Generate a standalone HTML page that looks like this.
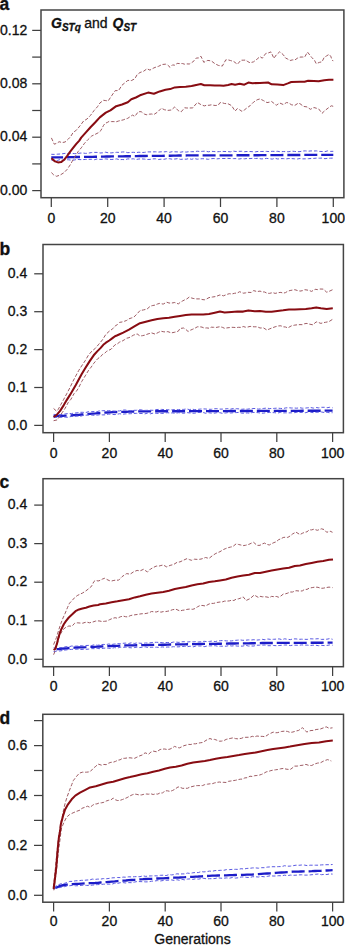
<!DOCTYPE html>
<html><head><meta charset="utf-8"><title>GSTq and QST</title><style>
html,body{margin:0;padding:0;background:#fff;}
body{width:345px;height:947px;overflow:hidden;}
svg{display:block;}
text{font-family:"Liberation Sans",sans-serif;fill:#111;stroke:#111;stroke-width:0.3px;}
.t{font-size:14px;}
.lt{font-size:17.5px;font-weight:bold;}
.lg{font-size:14px;}
.bi{font-weight:bold;font-style:italic;font-size:14px;}
.bis{font-weight:bold;font-style:italic;font-size:10px;}
</style></head>
<body>
<svg width="345" height="947" viewBox="0 0 345 947">
<rect width="100%" height="100%" fill="#fff"/>
<polyline fill="none" stroke="#1c1cc8" stroke-width="2.35" stroke-dasharray="13 3.95" stroke-dashoffset="1.2" points="51.3,157.5 54.2,157.4 57.1,157.4 60.0,157.3 62.7,157.3 65.5,157.2 68.2,157.2 70.9,157.1 73.6,157.1 76.4,157.0 79.1,157.0 81.8,156.9 84.5,156.9 87.3,156.8 90.0,156.8 92.7,156.8 95.5,156.7 98.2,156.7 100.9,156.6 103.6,156.6 106.4,156.5 109.1,156.5 111.8,156.4 114.5,156.4 117.3,156.3 120.0,156.3 122.8,156.3 125.6,156.2 128.4,156.2 131.2,156.2 134.0,156.1 136.8,156.1 139.6,156.0 142.4,156.0 145.2,156.0 148.0,155.9 150.8,155.9 153.6,155.9 156.4,155.8 159.2,155.8 162.0,155.8 164.8,155.7 167.6,155.7 170.4,155.7 173.2,155.6 176.0,155.6 178.8,155.5 181.6,155.5 184.4,155.5 187.2,155.4 190.0,155.4 192.9,155.4 195.7,155.4 198.6,155.4 201.4,155.4 204.3,155.4 207.1,155.3 210.0,155.3 212.9,155.3 215.7,155.3 218.6,155.3 221.4,155.3 224.3,155.3 227.1,155.3 230.0,155.3 232.9,155.3 235.7,155.2 238.6,155.2 241.4,155.2 244.3,155.2 247.1,155.2 250.0,155.2 252.8,155.2 255.6,155.2 258.3,155.2 261.1,155.1 263.9,155.1 266.7,155.1 269.4,155.1 272.2,155.1 275.0,155.1 277.8,155.1 280.5,155.1 283.3,155.0 286.1,155.0 288.9,155.0 291.6,155.0 294.4,155.0 297.2,155.0 300.0,155.0 302.8,154.9 305.5,154.9 308.3,154.9 311.1,154.9 313.9,154.9 316.6,154.9 319.4,154.9 322.2,154.9 325.0,154.8 327.7,154.8 330.5,154.8 333.3,154.8"/>
<polyline fill="none" stroke="#5a5ae2" stroke-width="1" stroke-dasharray="3.4 2" points="51.3,160.0 54.2,160.5 57.1,160.5 60.0,159.6 62.9,160.3 65.7,159.7 68.6,159.8 71.4,160.2 74.3,160.0 77.1,159.4 80.0,159.6 82.9,159.6 85.7,159.4 88.6,159.3 91.4,159.3 94.3,159.7 97.1,159.0 100.0,159.4 102.8,159.3 105.6,158.9 108.3,159.2 111.1,159.5 113.9,159.3 116.7,158.9 119.4,159.7 122.2,159.5 125.0,159.7 127.8,158.9 130.6,159.0 133.3,158.8 136.1,159.5 138.9,159.0 141.7,158.9 144.4,159.1 147.2,159.5 150.0,159.4 152.8,158.9 155.6,158.8 158.3,159.5 161.1,159.2 163.9,159.3 166.7,158.7 169.4,158.7 172.2,159.2 175.0,159.0 177.8,158.6 180.6,159.4 183.3,159.1 186.1,159.2 188.9,158.6 191.7,159.3 194.4,158.5 197.2,159.2 200.0,158.9 202.8,158.7 205.6,158.9 208.3,159.3 211.1,158.7 213.9,158.5 216.7,158.9 219.4,158.6 222.2,158.5 225.0,158.5 227.8,158.4 230.5,158.5 233.3,158.6 236.1,158.6 238.9,159.0 241.7,158.6 244.4,158.8 247.2,158.5 250.0,158.6 252.8,158.3 255.5,158.5 258.3,158.3 261.1,158.9 263.9,158.8 266.6,158.4 269.4,158.7 272.2,159.1 275.0,158.3 277.8,159.0 280.5,158.6 283.3,158.6 286.1,158.9 288.9,158.5 291.6,158.6 294.4,158.8 297.2,159.0 300.0,158.5 302.8,158.9 305.5,158.8 308.3,158.7 311.1,158.5 313.9,158.4 316.6,158.1 319.4,158.2 322.2,158.1 325.0,158.7 327.7,158.3 330.5,158.2 333.3,158.1"/>
<polyline fill="none" stroke="#5a5ae2" stroke-width="1" stroke-dasharray="3.4 2" points="51.3,154.3 54.2,154.4 57.1,154.2 60.0,154.0 62.9,153.7 65.7,153.3 68.6,153.8 71.4,153.3 74.3,153.6 77.1,153.7 80.0,153.1 82.9,153.0 85.7,153.4 88.6,153.1 91.4,152.6 94.3,152.4 97.1,152.4 100.0,153.0 102.8,152.8 105.6,152.2 108.3,152.8 111.1,152.9 113.9,152.6 116.7,152.3 119.4,152.4 122.2,152.0 125.0,151.9 127.8,152.7 130.6,152.4 133.3,152.3 136.1,152.6 138.9,152.2 141.7,152.5 144.4,152.4 147.2,151.9 150.0,151.9 152.8,151.9 155.6,151.8 158.3,152.1 161.1,151.8 163.9,151.9 166.7,151.6 169.4,152.3 172.2,151.7 175.0,151.8 177.8,151.9 180.6,152.2 183.3,151.7 186.1,152.1 188.9,151.7 191.7,151.7 194.4,151.7 197.2,151.2 200.0,151.5 202.8,151.3 205.6,151.1 208.3,151.8 211.1,151.3 213.9,151.5 216.7,151.8 219.4,151.6 222.2,151.4 225.0,151.5 227.8,151.6 230.5,151.8 233.3,151.1 236.1,151.5 238.9,151.3 241.7,151.3 244.4,151.7 247.2,151.5 250.0,151.5 252.8,151.7 255.5,151.8 258.3,151.4 261.1,151.5 263.9,151.4 266.6,151.4 269.4,151.6 272.2,151.3 275.0,151.4 277.8,151.3 280.5,151.8 283.3,151.5 286.1,151.7 288.9,151.7 291.6,151.1 294.4,151.4 297.2,151.7 300.0,151.6 302.8,151.0 305.5,150.9 308.3,151.2 311.1,150.9 313.9,151.0 316.6,150.9 319.4,151.4 322.2,151.5 325.0,151.6 327.7,150.9 330.5,151.4 333.3,151.3"/>
<polyline fill="none" stroke="#9e5c64" stroke-width="1" stroke-dasharray="3.6 1.8" points="51.4,172.6 53.5,174.7 56.5,176.3 60.1,175.1 64.1,172.6 67.2,169.3 70.2,164.9 72.2,161.3 75.3,156.2 78.3,151.3 81.3,147.8 84.6,143.2 88.2,139.4 91.7,136.0 95.1,134.4 98.6,132.6 100.9,130.5 103.3,125.8 105.0,123.4 107.2,122.5 109.3,121.3 111.6,121.6 113.9,121.6 116.2,121.8 118.6,121.0 120.9,120.4 123.2,119.9 125.5,119.0 127.8,118.3 130.2,116.6 132.5,115.1 134.8,116.4 138.3,111.7 141.2,111.7 144.6,114.2 146.9,114.8 149.3,114.2 151.6,114.0 153.9,114.5 157.4,112.2 161.4,108.2 164.3,109.7 167.8,110.4 171.3,110.0 174.8,106.9 178.3,110.7 181.2,111.8 184.6,107.8 186.9,108.0 189.3,108.0 192.8,107.9 195.1,105.0 197.4,102.5 200.9,104.6 204.3,105.9 206.7,105.2 209.0,105.3 211.3,104.8 213.6,105.3 215.9,105.5 218.3,105.1 220.0,102.6 222.3,102.8 224.6,103.5 228.1,103.8 231.6,105.6 235.1,111.1 237.4,108.5 239.7,109.8 242.0,111.4 244.3,110.0 246.7,108.1 250.1,105.7 253.6,102.1 257.1,99.8 260.0,98.9 263.5,100.6 267.0,102.6 269.3,102.2 271.6,101.5 273.9,103.3 276.2,105.3 279.7,103.0 283.2,104.5 286.7,102.5 289.0,103.1 291.3,104.7 294.8,105.4 298.3,103.1 300.0,103.7 303.5,106.4 307.0,106.9 310.4,109.3 313.9,107.5 316.2,108.2 318.6,108.8 322.0,113.3 325.5,110.1 329.0,107.4 331.3,105.8 333.2,106.3"/>
<polyline fill="none" stroke="#9e5c64" stroke-width="1" stroke-dasharray="3.6 1.8" points="51.4,137.9 54.3,144.2 57.0,143.2 59.1,141.7 62.1,142.6 65.1,142.0 68.2,139.2 70.7,136.5 73.1,132.5 76.6,130.0 80.1,125.7 83.6,121.0 87.0,119.0 90.5,115.4 94.0,110.6 97.5,106.7 100.0,102.9 103.5,100.3 105.8,100.6 108.1,101.0 111.6,95.8 115.1,90.7 118.6,90.5 122.0,85.2 124.3,83.3 127.8,80.4 131.3,80.6 134.8,78.8 137.1,74.7 140.0,72.5 143.5,71.3 147.0,68.8 149.9,70.1 153.9,67.9 156.2,67.0 158.6,66.3 162.0,64.5 165.5,64.2 167.8,65.2 170.1,67.3 172.5,64.9 174.8,65.2 177.1,63.4 180.0,63.6 182.3,63.5 184.6,64.2 186.9,63.9 189.3,64.0 192.8,62.0 196.2,58.1 198.6,57.9 200.9,56.2 203.8,62.3 207.8,60.4 211.3,60.9 214.8,63.6 218.3,65.4 222.3,66.1 225.8,59.8 228.1,59.9 230.4,60.5 233.9,61.6 237.4,64.3 240.9,60.2 243.2,60.2 245.5,60.1 247.8,61.6 250.1,62.8 253.6,61.8 257.1,59.1 260.0,56.6 262.3,58.2 265.8,53.4 268.4,52.9 271.0,51.9 273.9,58.4 276.2,55.0 279.7,51.8 283.2,54.6 285.5,58.0 287.8,59.1 290.1,60.5 292.5,59.9 294.8,60.0 297.4,58.2 300.0,57.1 302.3,57.0 304.6,57.2 307.5,52.1 311.6,57.3 314.5,60.3 316.2,63.6 319.7,62.3 322.0,61.8 324.3,57.2 326.6,55.9 329.0,54.4 330.7,56.1 331.9,59.6 333.2,61.1"/>
<polyline fill="none" stroke="#880c12" stroke-width="2.05" stroke-linejoin="round" points="51.4,158.3 55.0,161.4 58.0,162.4 61.1,162.1 64.1,159.8 67.2,155.8 70.2,151.7 73.3,147.7 76.3,143.9 79.3,140.6 81.2,137.6 85.9,132.4 90.5,127.2 95.1,122.5 99.8,117.4 105.8,112.6 110.4,110.3 116.2,106.2 122.0,104.5 127.8,102.2 131.3,99.3 135.9,97.5 140.0,95.3 148.1,92.6 153.9,93.8 159.7,91.4 165.5,89.7 170.1,89.1 174.8,87.4 180.0,87.0 185.8,86.7 191.6,86.1 196.2,84.9 200.9,84.0 204.3,85.2 210.1,85.2 214.8,85.5 220.0,85.4 223.5,85.8 228.1,84.9 231.6,84.0 235.1,84.7 239.7,83.8 244.3,84.7 248.4,82.6 252.5,83.2 260.0,82.9 268.1,82.5 271.6,84.3 277.4,84.6 283.2,85.1 287.8,83.4 291.3,82.0 300.0,81.8 304.6,81.7 308.1,80.8 313.9,81.1 318.6,81.3 324.3,80.2 329.0,79.7 333.4,79.7"/>
<rect x="41" y="10" width="302.90" height="187.70" fill="none" stroke="#444" stroke-width="1.5"/>
<line x1="32.2" y1="190.6" x2="41" y2="190.6" stroke="#404040" stroke-width="1.25"/>
<text x="27.2" y="194.8" text-anchor="end" class="t">0.00</text>
<line x1="32.2" y1="163.9" x2="41" y2="163.9" stroke="#404040" stroke-width="1.25"/>
<line x1="32.2" y1="137.2" x2="41" y2="137.2" stroke="#404040" stroke-width="1.25"/>
<text x="27.2" y="141.4" text-anchor="end" class="t">0.04</text>
<line x1="32.2" y1="110.5" x2="41" y2="110.5" stroke="#404040" stroke-width="1.25"/>
<line x1="32.2" y1="83.8" x2="41" y2="83.8" stroke="#404040" stroke-width="1.25"/>
<text x="27.2" y="88.0" text-anchor="end" class="t">0.08</text>
<line x1="32.2" y1="57.1" x2="41" y2="57.1" stroke="#404040" stroke-width="1.25"/>
<line x1="32.2" y1="30.4" x2="41" y2="30.4" stroke="#404040" stroke-width="1.25"/>
<text x="27.2" y="34.6" text-anchor="end" class="t">0.12</text>
<line x1="51.3" y1="197.7" x2="51.3" y2="207.0" stroke="#404040" stroke-width="1.25"/>
<text x="51.3" y="222.8" text-anchor="middle" class="t">0</text>
<line x1="107.7" y1="197.7" x2="107.7" y2="207.0" stroke="#404040" stroke-width="1.25"/>
<text x="107.7" y="222.8" text-anchor="middle" class="t">20</text>
<line x1="164.1" y1="197.7" x2="164.1" y2="207.0" stroke="#404040" stroke-width="1.25"/>
<text x="164.1" y="222.8" text-anchor="middle" class="t">40</text>
<line x1="220.5" y1="197.7" x2="220.5" y2="207.0" stroke="#404040" stroke-width="1.25"/>
<text x="220.5" y="222.8" text-anchor="middle" class="t">60</text>
<line x1="276.9" y1="197.7" x2="276.9" y2="207.0" stroke="#404040" stroke-width="1.25"/>
<text x="276.9" y="222.8" text-anchor="middle" class="t">80</text>
<line x1="333.3" y1="197.7" x2="333.3" y2="207.0" stroke="#404040" stroke-width="1.25"/>
<text x="333.3" y="222.8" text-anchor="middle" class="t">100</text>
<text x="-0.5" y="9.6" class="lt">a</text>
<polyline fill="none" stroke="#1c1cc8" stroke-width="2.35" stroke-dasharray="13 3.95" stroke-dashoffset="0" points="53.6,416.1 56.8,416.0 60.0,415.9 62.8,415.8 65.5,415.7 68.2,415.6 71.0,415.5 73.7,415.2 76.3,415.0 79.0,414.8 81.7,414.5 84.3,414.2 87.0,414.0 89.9,413.8 92.8,413.6 95.6,413.4 98.5,413.1 101.4,412.9 104.2,412.7 107.1,412.5 110.0,412.3 112.7,412.2 115.5,412.1 118.2,412.0 120.9,411.9 123.6,411.8 126.4,411.8 129.1,411.7 131.8,411.6 134.5,411.5 137.3,411.4 140.0,411.3 142.7,411.3 145.5,411.3 148.2,411.3 150.9,411.3 153.6,411.3 156.4,411.2 159.1,411.2 161.8,411.2 164.5,411.2 167.3,411.2 170.0,411.2 172.8,411.2 175.5,411.2 178.3,411.2 181.0,411.2 183.8,411.2 186.6,411.2 189.3,411.2 192.1,411.1 194.8,411.1 197.6,411.1 200.3,411.1 203.1,411.1 205.9,411.1 208.6,411.1 211.4,411.1 214.1,411.1 216.9,411.1 219.7,411.1 222.4,411.1 225.2,411.1 227.9,411.1 230.7,411.0 233.4,411.0 236.2,411.0 239.0,411.0 241.7,411.0 244.5,411.0 247.2,411.0 250.0,411.0 252.8,411.0 255.5,411.0 258.3,411.0 261.0,410.9 263.8,410.9 266.5,410.9 269.3,410.9 272.0,410.9 274.8,410.9 277.5,410.9 280.3,410.9 283.0,410.8 285.8,410.8 288.5,410.8 291.3,410.8 294.1,410.8 296.8,410.8 299.6,410.8 302.3,410.7 305.1,410.7 307.8,410.7 310.6,410.7 313.3,410.7 316.1,410.7 318.8,410.7 321.6,410.7 324.3,410.6 327.1,410.6 329.8,410.6 332.6,410.6"/>
<polyline fill="none" stroke="#5a5ae2" stroke-width="1" stroke-dasharray="3.4 2" points="53.6,417.6 56.8,417.3 60.0,417.3 62.9,417.2 65.7,417.2 68.6,417.3 71.4,416.3 74.3,416.3 77.1,416.0 80.0,416.4 82.9,415.5 85.7,415.2 88.6,415.0 91.4,415.0 94.3,415.3 97.1,415.1 100.0,414.7 102.8,414.9 105.6,414.8 108.4,414.2 111.2,414.0 114.0,414.6 116.8,414.4 119.6,413.7 122.4,414.2 125.2,413.9 128.0,413.8 130.8,413.7 133.6,413.5 136.4,413.3 139.2,413.5 142.0,413.5 144.8,413.9 147.6,413.1 150.4,413.8 153.2,413.1 156.0,413.2 158.8,413.5 161.6,413.5 164.4,413.1 167.2,412.7 170.0,413.0 172.8,412.9 175.5,413.4 178.3,412.7 181.0,412.9 183.8,413.3 186.6,412.5 189.3,412.9 192.1,413.2 194.8,413.2 197.6,412.5 200.3,412.5 203.1,412.5 205.9,413.3 208.6,412.7 211.4,413.1 214.1,413.2 216.9,412.7 219.7,412.7 222.4,413.3 225.2,413.0 227.9,412.6 230.7,413.0 233.4,412.7 236.2,412.6 239.0,412.4 241.7,413.1 244.5,413.2 247.2,412.9 250.0,413.2 252.8,412.4 255.5,412.5 258.3,412.7 261.0,413.2 263.8,413.1 266.5,412.6 269.3,412.5 272.0,412.6 274.8,412.7 277.5,413.1 280.3,412.4 283.0,412.9 285.8,412.8 288.5,412.9 291.3,412.8 294.1,412.7 296.8,412.4 299.6,412.4 302.3,412.4 305.1,412.8 307.8,412.1 310.6,412.2 313.3,412.7 316.1,412.3 318.8,412.1 321.6,412.0 324.3,412.5 327.1,412.3 329.8,412.8 332.6,412.7"/>
<polyline fill="none" stroke="#5a5ae2" stroke-width="1" stroke-dasharray="3.4 2" points="53.6,414.4 56.8,414.6 60.0,414.7 62.9,414.4 65.7,413.8 68.6,413.6 71.4,413.5 74.3,413.1 77.1,412.8 80.0,412.3 82.9,412.3 85.7,412.6 88.6,411.6 91.4,411.7 94.3,411.6 97.1,411.6 100.0,410.7 102.8,410.7 105.6,410.7 108.4,410.7 111.2,410.7 114.0,411.1 116.8,411.0 119.6,410.9 122.4,410.1 125.2,410.0 128.0,410.6 130.8,410.7 133.6,410.3 136.4,410.3 139.2,409.7 142.0,410.0 144.8,410.4 147.6,410.3 150.4,410.2 153.2,410.3 156.0,409.6 158.8,409.4 161.6,409.4 164.4,409.6 167.2,409.7 170.0,409.9 172.8,409.7 175.5,409.6 178.3,409.7 181.0,409.4 183.8,409.4 186.6,408.9 189.3,409.6 192.1,409.1 194.8,409.7 197.6,409.4 200.3,409.1 203.1,408.9 205.9,409.0 208.6,409.3 211.4,409.3 214.1,408.8 216.9,408.7 219.7,409.1 222.4,409.1 225.2,408.9 227.9,408.7 230.7,409.1 233.4,408.5 236.2,408.7 239.0,408.9 241.7,409.3 244.5,409.0 247.2,409.2 250.0,408.8 252.8,408.5 255.5,408.5 258.3,409.1 261.0,408.8 263.8,408.4 266.5,408.1 269.3,408.5 272.0,408.6 274.8,408.3 277.5,408.1 280.3,408.4 283.0,408.6 285.8,407.9 288.5,407.7 291.3,408.0 294.1,408.0 296.8,408.2 299.6,407.7 302.3,408.2 305.1,408.1 307.8,407.8 310.6,407.5 313.3,408.1 316.1,407.5 318.8,407.9 321.6,407.3 324.3,407.3 327.1,407.7 329.8,407.3 332.6,407.8"/>
<polyline fill="none" stroke="#9e5c64" stroke-width="1" stroke-dasharray="3.6 1.8" points="53.6,420.7 57.2,419.9 59.8,416.0 62.3,412.5 65.2,408.2 68.1,402.7 71.0,399.2 74.0,393.7 76.2,391.5 78.3,388.4 81.7,381.5 85.2,375.9 88.7,370.1 91.2,367.1 93.7,363.4 95.8,360.9 98.0,358.4 100.2,357.2 102.4,354.5 104.6,353.3 106.7,351.3 108.9,350.2 111.1,349.2 115.0,344.8 117.3,343.9 119.7,342.0 122.0,341.2 124.3,339.8 126.7,338.2 129.0,337.7 131.3,336.4 133.6,335.1 137.1,333.9 140.0,336.0 142.3,335.7 144.6,335.2 148.1,333.9 151.6,332.9 155.1,334.1 158.6,332.3 160.9,331.2 163.2,331.7 165.5,332.0 167.8,331.6 171.3,332.9 174.8,332.2 178.3,331.2 180.0,328.5 183.5,328.0 185.8,329.4 188.1,331.5 190.4,330.2 192.8,329.2 195.1,328.1 197.4,326.8 199.7,326.8 202.0,327.1 204.3,328.1 206.7,327.9 209.0,328.2 211.3,327.2 213.6,327.3 215.9,327.5 220.0,326.7 222.3,327.3 224.6,328.3 226.9,327.9 229.3,327.6 231.6,327.3 233.9,327.4 236.2,327.6 238.6,327.3 240.9,327.4 243.2,326.5 245.5,327.2 247.8,327.0 250.1,326.4 252.4,326.7 254.8,326.8 257.4,326.8 260.0,328.0 263.5,327.9 267.0,330.1 269.3,329.0 271.6,328.1 275.1,326.8 278.6,325.9 280.9,325.8 283.2,326.8 285.5,327.0 287.8,327.9 291.3,325.9 294.8,325.1 297.4,324.8 300.0,324.6 302.3,324.7 304.6,323.7 307.0,323.4 309.3,324.1 312.8,324.8 316.2,321.9 318.5,322.5 320.9,323.4 323.2,322.7 325.5,322.3 329.0,321.6 332.6,319.3"/>
<polyline fill="none" stroke="#9e5c64" stroke-width="1" stroke-dasharray="3.6 1.8" points="53.6,408.5 56.5,411.1 58.0,409.8 60.9,404.4 63.8,399.2 66.7,393.8 70.0,387.5 72.9,381.4 75.8,375.9 78.7,370.5 81.6,366.0 85.2,360.7 88.5,355.0 92.0,351.0 95.4,348.3 98.9,344.1 102.4,339.9 105.9,334.3 109.3,331.2 112.8,328.7 115.0,326.1 115.1,326.0 117.4,324.6 119.7,322.3 122.0,322.0 124.3,321.3 126.7,320.4 129.0,318.8 131.3,318.0 133.6,317.4 137.1,313.8 140.0,310.6 143.5,309.9 147.0,309.1 150.4,306.1 152.8,305.5 155.1,305.1 157.4,304.0 159.7,303.4 163.2,304.1 166.7,302.2 169.0,303.0 171.3,303.1 174.8,302.5 178.3,303.9 180.0,302.6 182.3,301.1 184.6,299.9 186.9,298.9 189.3,297.0 191.6,298.0 193.9,298.6 196.8,298.9 199.7,298.9 202.0,299.5 204.3,299.8 206.7,298.9 209.0,297.6 212.5,297.0 215.9,296.5 220.0,294.9 223.5,295.8 227.0,294.4 229.3,293.7 231.6,294.0 234.5,293.3 237.4,292.9 239.7,291.7 243.2,293.2 245.5,292.9 247.8,292.3 251.3,292.5 253.6,290.6 257.1,291.6 260.0,291.1 262.3,291.9 264.6,292.0 267.0,293.2 269.3,293.4 272.8,292.6 275.1,293.4 278.6,292.6 280.9,292.4 283.2,293.2 285.5,292.6 287.8,291.2 290.1,290.5 292.5,290.1 294.8,289.7 297.4,290.5 300.0,291.1 302.3,290.7 304.6,289.7 307.0,290.0 309.3,290.5 311.6,291.4 315.1,289.3 317.4,289.6 319.7,289.0 323.2,289.1 326.7,292.2 329.0,291.4 332.6,289.7"/>
<polyline fill="none" stroke="#880c12" stroke-width="2.05" stroke-linejoin="round" points="53.6,417.0 56.5,415.2 60.1,410.9 63.8,405.1 66.7,400.1 70.0,394.9 75.8,384.9 81.6,374.3 85.2,368.3 89.7,361.1 93.7,355.3 97.2,351.4 100.7,347.9 103.3,344.8 105.9,342.7 109.3,340.5 112.8,337.9 115.0,336.2 117.4,335.3 123.2,332.6 129.0,329.7 134.8,326.2 140.0,323.2 145.8,321.7 151.6,320.3 157.4,318.9 163.2,318.2 169.0,317.7 174.8,316.8 180.0,315.9 185.8,315.1 191.6,314.4 197.4,314.4 203.2,314.5 209.0,313.9 214.8,312.7 220.0,311.6 224.6,312.4 231.6,312.0 237.4,311.6 243.2,311.6 248.4,310.4 254.8,311.2 260.0,311.1 265.8,311.7 271.6,311.7 277.4,310.9 283.2,310.3 289.0,309.4 294.8,309.4 300.0,309.2 305.8,308.9 311.6,308.2 316.2,307.4 320.9,308.2 326.7,308.9 332.8,308.2"/>
<rect x="43" y="244.5" width="300.40" height="188.20" fill="none" stroke="#444" stroke-width="1.5"/>
<line x1="34.2" y1="425.4" x2="43" y2="425.4" stroke="#404040" stroke-width="1.25"/>
<text x="27.2" y="429.6" text-anchor="end" class="t">0.0</text>
<line x1="34.2" y1="387.5" x2="43" y2="387.5" stroke="#404040" stroke-width="1.25"/>
<text x="27.2" y="391.7" text-anchor="end" class="t">0.1</text>
<line x1="34.2" y1="349.6" x2="43" y2="349.6" stroke="#404040" stroke-width="1.25"/>
<text x="27.2" y="353.8" text-anchor="end" class="t">0.2</text>
<line x1="34.2" y1="311.7" x2="43" y2="311.7" stroke="#404040" stroke-width="1.25"/>
<text x="27.2" y="315.9" text-anchor="end" class="t">0.3</text>
<line x1="34.2" y1="273.8" x2="43" y2="273.8" stroke="#404040" stroke-width="1.25"/>
<text x="27.2" y="278.0" text-anchor="end" class="t">0.4</text>
<line x1="53.6" y1="432.7" x2="53.6" y2="442.0" stroke="#404040" stroke-width="1.25"/>
<text x="53.6" y="457.6" text-anchor="middle" class="t">0</text>
<line x1="109.4" y1="432.7" x2="109.4" y2="442.0" stroke="#404040" stroke-width="1.25"/>
<text x="109.4" y="457.6" text-anchor="middle" class="t">20</text>
<line x1="165.2" y1="432.7" x2="165.2" y2="442.0" stroke="#404040" stroke-width="1.25"/>
<text x="165.2" y="457.6" text-anchor="middle" class="t">40</text>
<line x1="221.0" y1="432.7" x2="221.0" y2="442.0" stroke="#404040" stroke-width="1.25"/>
<text x="221.0" y="457.6" text-anchor="middle" class="t">60</text>
<line x1="276.8" y1="432.7" x2="276.8" y2="442.0" stroke="#404040" stroke-width="1.25"/>
<text x="276.8" y="457.6" text-anchor="middle" class="t">80</text>
<line x1="332.6" y1="432.7" x2="332.6" y2="442.0" stroke="#404040" stroke-width="1.25"/>
<text x="332.6" y="457.6" text-anchor="middle" class="t">100</text>
<text x="-0.5" y="254.6" class="lt">b</text>
<polyline fill="none" stroke="#1c1cc8" stroke-width="2.35" stroke-dasharray="13 3.95" stroke-dashoffset="-3" points="53.6,649.6 57.2,649.2 59.6,649.0 62.1,648.7 64.5,648.5 66.9,648.3 69.3,648.0 71.7,647.8 74.5,647.7 77.3,647.5 80.2,647.4 83.0,647.3 85.9,647.2 88.7,647.0 91.6,646.9 94.4,646.8 97.3,646.7 100.1,646.5 103.0,646.4 105.9,646.3 108.7,646.1 111.6,646.0 114.4,645.9 117.3,645.8 120.1,645.6 123.0,645.5 125.8,645.4 128.6,645.4 131.4,645.3 134.2,645.3 137.0,645.2 139.8,645.2 142.6,645.1 145.4,645.1 148.2,645.0 151.0,644.9 153.8,644.9 156.6,644.8 159.4,644.8 162.2,644.7 165.0,644.7 167.8,644.6 170.6,644.5 173.4,644.5 176.2,644.4 179.0,644.4 181.8,644.3 184.6,644.3 187.4,644.2 190.2,644.2 193.0,644.1 195.8,644.1 198.5,644.0 201.3,644.0 204.1,643.9 206.8,643.9 209.6,643.8 212.4,643.8 215.2,643.8 217.9,643.7 220.7,643.7 223.5,643.6 226.2,643.6 229.0,643.5 231.8,643.5 234.5,643.5 237.3,643.4 240.1,643.4 242.8,643.3 245.6,643.3 248.4,643.3 251.2,643.2 253.9,643.2 256.7,643.1 259.5,643.1 262.2,643.0 265.0,643.0 267.8,643.0 270.6,643.0 273.4,643.0 276.3,642.9 279.1,642.9 281.9,642.9 284.7,642.9 287.5,642.9 290.4,642.9 293.2,642.8 296.0,642.8 298.8,642.8 301.6,642.8 304.4,642.8 307.2,642.8 310.1,642.7 312.9,642.7 315.7,642.7 318.5,642.7 321.3,642.7 324.2,642.6 327.0,642.6 329.8,642.6 332.6,642.6"/>
<polyline fill="none" stroke="#5a5ae2" stroke-width="1" stroke-dasharray="3.4 2" points="53.6,651.6 56.6,651.1 59.6,651.0 62.7,650.5 65.7,650.0 68.7,649.5 71.7,649.4 74.5,649.1 77.4,649.2 80.2,649.5 83.1,649.3 86.0,649.3 88.8,649.1 91.7,648.6 94.5,648.7 97.3,648.5 100.2,648.7 103.1,648.3 105.9,648.0 108.8,648.2 111.6,648.4 114.5,647.6 117.3,648.1 120.2,647.2 123.0,647.3 125.8,647.2 128.6,647.6 131.4,647.8 134.2,647.6 137.0,647.1 139.8,647.6 142.6,647.1 145.4,646.9 148.2,647.5 151.0,647.2 153.8,647.2 156.6,647.2 159.4,647.4 162.2,646.9 165.0,647.2 167.8,647.0 170.6,647.1 173.4,646.7 176.2,646.9 179.0,646.8 181.8,646.5 184.6,646.4 187.4,646.7 190.2,646.2 193.0,646.9 195.8,646.1 198.5,646.0 201.3,646.0 204.1,646.7 206.8,646.1 209.6,645.9 212.4,645.8 215.2,645.7 217.9,646.3 220.7,646.2 223.5,646.2 226.2,646.2 229.0,645.6 231.8,646.0 234.5,645.7 237.3,646.1 240.1,646.1 242.8,646.1 245.6,645.3 248.4,646.0 251.2,646.0 253.9,646.0 256.7,645.2 259.5,645.2 262.2,645.1 265.0,645.0 267.8,645.7 270.6,645.7 273.4,645.5 276.3,645.7 279.1,645.5 281.9,645.2 284.7,645.0 287.5,645.0 290.4,645.6 293.2,645.1 296.0,645.2 298.8,645.3 301.6,644.9 304.4,645.1 307.2,645.1 310.1,645.5 312.9,645.2 315.7,645.2 318.5,645.7 321.3,645.3 324.2,645.6 327.0,645.4 329.8,644.9 332.6,645.2"/>
<polyline fill="none" stroke="#5a5ae2" stroke-width="1" stroke-dasharray="3.4 2" points="53.6,647.9 56.6,648.3 59.6,647.7 62.7,647.6 65.7,646.6 68.7,646.9 71.7,646.0 74.5,646.2 77.4,646.1 80.2,645.7 83.1,646.0 86.0,645.5 88.8,645.4 91.7,645.5 94.5,644.7 97.3,645.3 100.2,644.8 103.1,644.4 105.9,644.6 108.8,644.0 111.6,644.5 114.5,644.0 117.3,643.6 120.2,643.8 123.0,643.3 125.8,643.1 128.6,643.5 131.4,642.8 134.2,643.5 137.0,642.9 139.8,643.2 142.6,643.4 145.4,643.0 148.2,643.0 151.0,642.7 153.8,642.3 156.6,642.3 159.4,642.4 162.2,642.7 165.0,642.5 167.8,642.5 170.6,642.8 173.4,642.1 176.2,642.1 179.0,642.4 181.8,641.8 184.6,641.7 187.4,642.0 190.2,641.7 193.0,641.9 195.8,641.7 198.5,641.9 201.3,641.8 204.1,641.3 206.8,641.6 209.6,641.4 212.4,641.0 215.2,641.6 217.9,640.9 220.7,640.7 223.5,640.5 226.2,640.9 229.0,641.0 231.8,640.9 234.5,640.4 237.3,640.2 240.1,639.9 242.8,640.3 245.6,640.2 248.4,639.9 251.2,640.0 253.9,639.7 256.7,640.1 259.5,639.8 262.2,639.3 265.0,639.8 267.8,639.0 270.6,639.4 273.4,639.3 276.3,639.1 279.1,638.9 281.9,639.6 284.7,638.8 287.5,639.3 290.4,639.6 293.2,638.9 296.0,638.9 298.8,639.3 301.6,639.2 304.4,639.3 307.2,639.4 310.1,638.8 312.9,638.9 315.7,638.9 318.5,638.7 321.3,639.4 324.2,639.3 327.0,639.2 329.8,638.6 332.6,639.3"/>
<polyline fill="none" stroke="#9e5c64" stroke-width="1" stroke-dasharray="3.6 1.8" points="53.6,654.7 55.8,649.5 57.2,644.2 58.7,638.2 60.9,633.3 63.0,629.6 65.9,627.3 68.8,626.0 72.0,626.2 74.6,623.3 77.2,622.8 80.7,623.1 82.8,623.2 85.0,622.4 87.2,622.2 89.4,622.8 92.9,622.0 95.5,621.1 99.0,620.9 102.0,621.5 104.6,621.3 106.9,621.0 109.3,619.8 112.8,618.3 115.1,617.7 117.4,618.3 120.3,616.8 123.2,616.1 125.5,616.7 127.8,616.9 130.2,615.7 132.5,615.1 134.8,614.8 137.1,614.5 140.0,614.0 142.3,613.7 144.6,613.7 146.9,613.3 149.3,612.6 151.6,611.5 153.9,611.8 156.2,612.0 158.6,611.2 160.9,612.2 163.2,611.6 165.5,611.6 167.8,611.2 170.2,610.6 172.5,609.7 175.9,609.2 180.0,611.0 182.3,610.3 184.6,610.0 186.9,609.4 189.3,609.1 192.8,609.3 195.1,608.5 197.4,606.9 199.7,605.7 202.0,605.4 205.5,606.0 209.0,604.0 211.3,603.4 213.6,603.4 216.8,602.5 220.0,602.0 222.3,601.9 224.6,601.1 226.9,601.1 229.3,600.9 231.6,600.2 233.9,600.5 236.2,599.1 238.6,598.8 240.9,598.0 243.2,596.9 246.1,600.5 250.1,598.6 254.2,595.0 258.3,597.4 260.0,596.3 262.3,596.8 264.6,596.7 267.0,597.0 269.3,597.6 271.6,596.4 273.9,596.7 276.2,596.4 278.6,597.2 280.9,596.0 283.2,594.1 285.5,593.8 287.8,593.1 290.1,592.0 292.5,592.0 295.9,590.7 300.0,591.1 302.3,590.9 304.6,589.4 307.0,589.4 309.3,588.1 312.2,587.6 315.1,587.1 318.0,587.3 320.9,588.3 323.2,588.2 325.5,587.7 329.0,587.1 332.5,587.6"/>
<polyline fill="none" stroke="#9e5c64" stroke-width="1" stroke-dasharray="3.6 1.8" points="53.6,644.6 56.5,637.4 58.7,630.0 60.9,623.4 63.0,618.0 65.2,613.2 67.4,607.8 69.5,603.2 72.0,600.6 74.6,597.7 77.2,595.6 79.8,594.3 82.4,593.1 85.9,590.9 89.4,588.1 92.0,585.7 93.7,581.8 95.5,580.3 98.1,581.0 100.0,580.4 102.3,579.1 104.6,578.3 106.9,579.5 109.3,580.6 111.6,581.0 113.9,580.4 116.2,580.1 118.6,580.2 122.0,576.7 124.3,575.1 126.7,573.6 130.1,574.2 133.6,571.8 137.1,570.4 140.0,570.9 143.5,569.3 147.5,572.0 150.4,569.1 153.9,567.2 156.2,566.1 158.6,566.2 160.9,565.5 163.2,565.0 166.7,566.9 170.1,565.4 173.6,564.5 177.1,562.3 180.0,561.9 183.5,560.2 187.0,558.6 189.3,559.6 191.6,560.3 194.5,559.2 197.4,559.4 199.7,559.3 202.0,558.8 205.5,557.5 209.0,558.4 212.5,555.6 215.9,553.4 220.0,551.7 223.5,549.5 225.8,548.5 228.1,547.7 230.4,547.1 232.8,546.6 236.2,543.8 238.6,544.5 240.9,545.0 243.2,545.6 245.5,545.3 249.0,544.3 251.3,543.2 253.6,542.3 257.1,545.4 260.0,545.3 262.3,543.9 264.6,543.1 267.0,544.4 269.3,545.0 271.6,543.7 273.9,542.6 276.2,541.8 278.6,539.7 280.9,538.8 283.2,537.5 285.5,537.2 287.8,537.4 290.1,536.0 292.5,534.0 295.9,532.1 300.0,534.6 302.3,533.3 304.6,532.3 307.0,531.8 309.3,529.8 311.6,529.9 313.9,529.2 317.4,530.3 321.4,528.8 324.3,529.6 326.7,532.3 330.1,531.2 332.5,532.3"/>
<polyline fill="none" stroke="#880c12" stroke-width="2.05" stroke-linejoin="round" points="53.6,650.0 55.1,649.0 56.9,643.9 58.3,638.1 59.8,633.0 61.6,628.7 63.8,624.3 65.9,621.1 68.8,617.5 72.0,614.6 75.5,611.2 79.0,609.4 82.4,608.4 85.9,607.7 89.4,606.6 93.7,605.5 98.1,604.9 100.0,604.3 105.8,603.4 111.6,602.2 117.4,601.3 123.2,600.2 129.0,599.3 134.8,597.4 140.0,596.3 145.8,594.8 151.6,593.6 157.4,592.8 163.2,591.9 169.0,590.7 174.8,589.0 180.0,588.1 185.8,587.1 191.6,585.4 197.4,584.2 203.2,583.6 209.0,582.1 214.8,581.3 220.0,580.4 225.8,579.4 231.6,577.7 237.4,576.5 243.2,575.6 249.0,574.8 254.8,573.0 260.0,572.9 265.8,571.7 271.6,570.6 277.4,569.4 283.2,568.6 289.0,567.7 294.8,565.9 300.0,565.5 305.8,564.1 311.6,562.9 317.4,561.7 323.2,560.9 329.0,559.8 333.0,559.4"/>
<rect x="43" y="478.7" width="300.40" height="188.00" fill="none" stroke="#444" stroke-width="1.5"/>
<line x1="34.2" y1="659.3" x2="43" y2="659.3" stroke="#404040" stroke-width="1.25"/>
<text x="27.2" y="663.5" text-anchor="end" class="t">0.0</text>
<line x1="34.2" y1="620.8" x2="43" y2="620.8" stroke="#404040" stroke-width="1.25"/>
<text x="27.2" y="625.0" text-anchor="end" class="t">0.1</text>
<line x1="34.2" y1="582.2" x2="43" y2="582.2" stroke="#404040" stroke-width="1.25"/>
<text x="27.2" y="586.4" text-anchor="end" class="t">0.2</text>
<line x1="34.2" y1="543.6" x2="43" y2="543.6" stroke="#404040" stroke-width="1.25"/>
<text x="27.2" y="547.9" text-anchor="end" class="t">0.3</text>
<line x1="34.2" y1="505.1" x2="43" y2="505.1" stroke="#404040" stroke-width="1.25"/>
<text x="27.2" y="509.3" text-anchor="end" class="t">0.4</text>
<line x1="53.6" y1="666.7" x2="53.6" y2="676.0" stroke="#404040" stroke-width="1.25"/>
<text x="53.6" y="690.7" text-anchor="middle" class="t">0</text>
<line x1="109.4" y1="666.7" x2="109.4" y2="676.0" stroke="#404040" stroke-width="1.25"/>
<text x="109.4" y="690.7" text-anchor="middle" class="t">20</text>
<line x1="165.2" y1="666.7" x2="165.2" y2="676.0" stroke="#404040" stroke-width="1.25"/>
<text x="165.2" y="690.7" text-anchor="middle" class="t">40</text>
<line x1="221.0" y1="666.7" x2="221.0" y2="676.0" stroke="#404040" stroke-width="1.25"/>
<text x="221.0" y="690.7" text-anchor="middle" class="t">60</text>
<line x1="276.8" y1="666.7" x2="276.8" y2="676.0" stroke="#404040" stroke-width="1.25"/>
<text x="276.8" y="690.7" text-anchor="middle" class="t">80</text>
<line x1="332.6" y1="666.7" x2="332.6" y2="676.0" stroke="#404040" stroke-width="1.25"/>
<text x="332.6" y="690.7" text-anchor="middle" class="t">100</text>
<text x="-0.5" y="487.8" class="lt">c</text>
<polyline fill="none" stroke="#1c1cc8" stroke-width="2.35" stroke-dasharray="13 3.95" stroke-dashoffset="-1.8" points="53.6,888.2 55.0,888.2 57.3,887.2 59.6,886.1 62.0,885.5 64.3,885.0 67.2,884.6 70.1,884.2 72.8,884.1 75.5,883.9 78.2,883.8 81.7,883.6 85.1,883.4 87.6,883.3 90.0,883.2 92.5,883.1 95.0,883.0 97.8,882.8 100.6,882.5 103.4,882.3 106.2,882.1 109.1,881.8 111.9,881.6 114.7,881.4 117.5,881.1 120.3,880.9 123.1,880.7 125.9,880.5 128.8,880.2 131.6,880.0 134.4,879.8 137.2,879.5 140.0,879.3 142.9,879.2 145.8,879.0 148.7,878.9 151.6,878.8 154.5,878.6 157.4,878.5 160.3,878.4 163.2,878.3 166.1,878.1 169.0,878.0 171.6,877.9 174.2,877.7 176.9,877.6 179.5,877.5 182.1,877.3 184.8,877.2 187.4,877.0 190.0,876.9 192.8,876.8 195.6,876.6 198.3,876.5 201.1,876.3 203.9,876.2 206.7,876.0 209.4,875.9 212.2,875.7 215.0,875.6 217.9,875.5 220.8,875.4 223.7,875.3 226.6,875.3 229.5,875.2 232.4,875.1 235.3,875.0 238.2,874.9 241.1,874.8 244.0,874.8 246.9,874.7 249.8,874.6 252.7,874.5 255.6,874.3 258.5,874.1 261.3,873.9 264.2,873.7 267.1,873.5 270.0,873.3 272.9,873.1 275.7,872.9 278.6,872.7 281.5,872.5 284.4,872.3 287.2,872.1 290.1,871.9 293.0,871.7 295.7,871.6 298.3,871.6 301.0,871.5 303.7,871.4 306.3,871.4 309.0,871.3 311.9,871.2 314.9,871.0 317.9,870.9 320.8,870.8 323.8,870.6 326.7,870.5 329.7,870.3 332.6,870.2"/>
<polyline fill="none" stroke="#5a5ae2" stroke-width="1" stroke-dasharray="3.4 2" points="53.6,889.2 55.8,888.1 58.0,888.0 61.1,887.1 64.3,886.7 67.1,885.9 69.9,885.7 72.6,885.4 75.4,885.8 78.2,885.7 81.0,885.4 83.8,885.1 86.6,885.4 89.4,885.4 92.2,885.1 95.0,884.8 97.8,884.6 100.6,884.5 103.4,884.2 106.2,884.1 109.1,884.1 111.9,884.2 114.7,883.2 117.5,883.4 120.3,882.7 123.1,882.6 125.9,883.0 128.8,882.6 131.6,882.7 134.4,882.1 137.2,881.5 140.0,881.6 142.9,881.7 145.8,881.9 148.7,881.8 151.6,881.2 154.5,881.0 157.4,880.6 160.3,881.0 163.2,880.5 166.1,880.3 169.0,880.1 171.6,879.9 174.2,880.4 176.9,879.7 179.5,880.3 182.1,879.4 184.8,879.9 187.4,879.1 190.0,878.9 192.8,879.4 195.6,878.8 198.3,879.2 201.1,878.6 203.9,878.3 206.7,878.9 209.4,878.7 212.2,878.7 215.0,878.5 217.9,877.8 220.8,878.2 223.7,878.2 226.6,877.9 229.5,878.2 232.4,877.5 235.3,878.1 238.2,877.8 241.1,877.0 244.0,876.9 246.9,877.4 249.8,877.5 252.7,876.7 255.6,876.8 258.5,877.0 261.4,876.4 264.3,876.8 267.2,876.4 270.1,875.8 273.0,876.0 275.9,876.0 278.8,875.7 281.7,875.8 284.6,875.2 287.5,875.6 290.4,875.1 293.2,875.3 296.0,875.2 298.8,874.9 301.7,874.8 304.5,875.1 307.3,875.1 310.1,874.9 312.9,874.6 315.7,874.3 318.5,874.0 321.3,874.7 324.2,874.4 327.0,874.5 329.8,873.9 332.6,874.1"/>
<polyline fill="none" stroke="#5a5ae2" stroke-width="1" stroke-dasharray="3.4 2" points="53.6,886.8 55.8,886.2 58.0,884.9 61.1,883.7 64.3,883.4 67.0,882.6 69.7,881.4 72.4,881.4 75.5,880.8 78.6,880.7 81.7,880.3 84.4,880.3 87.0,880.0 89.7,879.9 92.3,879.1 95.0,879.4 97.8,879.1 100.6,879.1 103.4,878.6 106.2,878.8 109.1,878.4 111.9,877.9 114.7,877.7 117.5,877.5 120.3,877.6 123.1,877.1 125.9,877.2 128.8,876.8 131.6,876.9 134.4,876.7 137.2,876.6 140.0,876.7 142.9,875.8 145.8,876.4 148.7,876.0 151.6,875.9 154.5,875.8 157.4,875.9 160.3,875.3 163.2,875.2 166.1,875.6 169.0,874.6 171.6,874.9 174.2,874.6 176.9,873.8 179.5,874.1 182.1,873.9 184.8,873.9 187.4,873.1 190.0,873.4 192.8,872.8 195.6,872.5 198.3,872.6 201.1,871.6 203.9,871.9 206.7,871.6 209.4,871.1 212.2,871.3 215.0,870.6 217.9,870.5 220.8,870.3 223.7,870.3 226.6,869.6 229.5,869.6 232.4,869.4 235.3,869.3 238.2,869.4 241.1,868.7 244.0,869.0 246.9,868.4 249.8,868.3 252.7,867.9 255.6,867.9 258.5,868.2 261.4,867.7 264.3,867.7 267.2,867.1 270.1,866.9 273.0,866.7 275.9,866.8 278.8,866.6 281.7,866.6 284.6,865.7 287.5,866.2 290.4,866.1 293.2,865.7 296.0,865.2 298.8,865.3 301.7,865.0 304.5,865.1 307.3,865.6 310.1,865.2 312.9,865.2 315.7,865.2 318.5,865.2 321.3,864.9 324.2,864.8 327.0,864.7 329.8,864.7 332.6,864.5"/>
<polyline fill="none" stroke="#9e5c64" stroke-width="1" stroke-dasharray="3.6 1.8" points="53.8,890.3 55.4,878.2 57.0,865.4 58.6,850.2 60.2,838.1 61.3,829.0 62.5,825.8 63.7,822.8 66.6,817.2 69.5,814.6 73.1,812.8 76.7,811.3 80.0,810.1 82.0,808.3 85.4,807.1 87.5,806.2 90.0,807.4 92.3,805.5 94.6,804.0 96.9,803.9 99.3,802.9 101.6,802.8 103.9,802.3 106.2,801.0 108.6,800.3 110.9,799.9 113.2,798.1 115.5,799.8 117.8,800.6 120.2,800.3 122.5,799.5 124.8,798.6 127.1,797.6 130.0,795.9 132.3,794.8 134.6,794.0 136.9,794.4 139.3,795.0 141.6,794.9 143.9,794.3 146.2,794.0 148.6,794.2 150.9,793.8 153.2,794.5 155.5,793.9 157.8,794.1 160.2,792.8 162.5,793.1 164.8,790.8 167.4,790.8 170.0,791.4 172.3,790.6 174.6,789.4 178.1,786.9 180.4,787.5 182.8,788.4 185.1,788.2 187.4,788.3 189.7,787.2 192.0,786.6 195.5,785.7 197.8,785.6 200.1,785.6 202.4,785.6 204.8,784.6 207.4,784.2 210.0,783.8 212.3,783.7 214.6,782.9 216.9,782.4 219.3,782.0 221.6,782.4 223.9,782.3 226.2,782.5 228.6,781.3 230.9,781.0 233.2,780.6 235.5,780.3 237.8,779.7 240.2,779.2 242.5,779.1 244.8,777.9 247.1,777.7 250.0,776.2 252.3,776.5 254.6,775.7 256.9,775.5 259.3,775.1 261.6,774.4 263.9,773.3 266.2,771.9 268.6,771.4 270.9,770.6 273.2,770.1 275.5,769.8 277.8,769.5 280.7,768.8 283.6,768.4 286.0,769.1 288.3,769.4 290.0,769.6 292.1,768.2 294.3,766.1 297.2,766.1 300.1,765.5 303.0,765.2 305.9,764.4 308.8,765.4 311.7,765.5 314.6,764.0 317.5,763.1 320.4,762.8 323.3,761.2 325.5,760.3 327.7,759.6 331.3,761.0"/>
<polyline fill="none" stroke="#9e5c64" stroke-width="1" stroke-dasharray="3.6 1.8" points="53.4,886.9 55.0,872.3 56.6,855.8 58.2,840.2 60.0,828.0 61.2,820.7 62.2,817.3 63.7,809.2 65.1,803.4 67.3,796.3 69.5,790.3 71.7,784.7 73.3,780.6 76.3,776.7 79.3,773.2 82.4,772.2 86.4,772.2 90.0,771.8 93.5,768.1 95.8,766.3 98.1,764.1 101.6,765.2 103.9,764.4 106.2,764.7 108.6,763.2 110.9,762.3 113.2,762.2 115.5,761.4 117.8,760.2 120.1,759.8 122.4,758.4 124.8,758.3 127.4,757.9 130.0,757.8 132.3,758.1 134.6,758.3 136.9,757.2 139.3,756.0 142.2,755.0 145.1,752.8 148.6,754.2 150.9,752.1 153.2,751.1 156.7,751.8 160.1,749.5 162.4,749.1 164.8,749.0 167.4,749.6 170.0,749.1 172.3,747.9 174.6,746.4 176.9,747.3 179.3,747.9 181.6,746.9 183.9,745.7 186.2,745.1 188.6,744.4 190.9,744.5 193.2,743.8 195.5,743.8 197.8,743.3 200.2,742.8 202.5,742.5 204.8,741.2 207.1,739.7 210.0,738.5 212.3,739.5 214.6,739.4 216.9,740.2 219.3,741.2 221.6,741.1 223.9,740.6 226.2,739.4 228.6,738.8 230.9,738.3 233.2,737.8 235.5,738.6 237.8,738.8 241.3,738.4 243.6,737.4 245.9,737.3 250.0,737.2 252.3,736.3 254.6,736.9 256.9,736.0 259.3,736.3 262.8,736.4 265.1,736.7 268.6,734.3 270.9,733.2 273.2,732.1 275.5,732.8 277.8,732.6 281.3,731.5 284.8,731.1 287.4,731.4 290.0,732.4 292.1,732.2 294.3,731.6 296.5,730.9 298.7,730.4 302.3,727.7 304.5,729.5 306.7,732.1 308.9,731.1 311.0,730.5 313.6,730.4 316.1,729.5 318.2,729.3 320.4,729.0 323.3,727.9 326.2,726.8 329.1,728.3 332.5,727.8"/>
<polyline fill="none" stroke="#880c12" stroke-width="2.05" stroke-linejoin="round" points="53.6,889.0 55.0,878.3 56.3,867.0 57.1,856.6 58.0,846.2 58.9,837.5 60.2,830.5 60.8,824.6 63.0,815.9 65.1,809.4 68.0,804.3 71.7,799.3 75.3,795.6 80.0,792.7 85.4,789.9 90.0,787.4 95.8,786.3 101.6,784.6 107.4,782.8 113.2,781.7 119.0,779.9 124.8,778.2 130.0,777.1 135.8,775.7 141.6,774.3 147.4,773.2 153.2,771.7 159.0,770.5 164.8,768.8 170.0,767.6 175.8,766.7 181.6,765.5 187.4,763.8 193.2,762.6 199.0,761.7 204.8,760.9 210.0,760.0 215.8,758.8 221.6,757.8 227.4,757.0 233.2,755.9 239.0,755.1 244.8,754.1 250.0,753.2 255.8,752.4 261.6,751.2 267.4,750.1 273.2,749.1 279.0,748.2 284.8,747.4 290.0,746.6 297.2,745.3 304.5,744.1 311.7,743.1 319.0,742.4 326.2,741.2 332.8,740.6"/>
<rect x="42.8" y="714.3" width="300.70" height="187.90" fill="none" stroke="#444" stroke-width="1.5"/>
<line x1="34.0" y1="895.3" x2="42.8" y2="895.3" stroke="#404040" stroke-width="1.25"/>
<text x="27.2" y="899.5" text-anchor="end" class="t">0.0</text>
<line x1="34.0" y1="870.3" x2="42.8" y2="870.3" stroke="#404040" stroke-width="1.25"/>
<line x1="34.0" y1="845.4" x2="42.8" y2="845.4" stroke="#404040" stroke-width="1.25"/>
<text x="27.2" y="849.6" text-anchor="end" class="t">0.2</text>
<line x1="34.0" y1="820.4" x2="42.8" y2="820.4" stroke="#404040" stroke-width="1.25"/>
<line x1="34.0" y1="795.5" x2="42.8" y2="795.5" stroke="#404040" stroke-width="1.25"/>
<text x="27.2" y="799.7" text-anchor="end" class="t">0.4</text>
<line x1="34.0" y1="770.5" x2="42.8" y2="770.5" stroke="#404040" stroke-width="1.25"/>
<line x1="34.0" y1="745.6" x2="42.8" y2="745.6" stroke="#404040" stroke-width="1.25"/>
<text x="27.2" y="749.8" text-anchor="end" class="t">0.6</text>
<line x1="34.0" y1="720.6" x2="42.8" y2="720.6" stroke="#404040" stroke-width="1.25"/>
<line x1="53.6" y1="902.2" x2="53.6" y2="911.5" stroke="#404040" stroke-width="1.25"/>
<text x="53.6" y="926.2" text-anchor="middle" class="t">0</text>
<line x1="109.4" y1="902.2" x2="109.4" y2="911.5" stroke="#404040" stroke-width="1.25"/>
<text x="109.4" y="926.2" text-anchor="middle" class="t">20</text>
<line x1="165.2" y1="902.2" x2="165.2" y2="911.5" stroke="#404040" stroke-width="1.25"/>
<text x="165.2" y="926.2" text-anchor="middle" class="t">40</text>
<line x1="221.0" y1="902.2" x2="221.0" y2="911.5" stroke="#404040" stroke-width="1.25"/>
<text x="221.0" y="926.2" text-anchor="middle" class="t">60</text>
<line x1="276.8" y1="902.2" x2="276.8" y2="911.5" stroke="#404040" stroke-width="1.25"/>
<text x="276.8" y="926.2" text-anchor="middle" class="t">80</text>
<line x1="332.6" y1="902.2" x2="332.6" y2="911.5" stroke="#404040" stroke-width="1.25"/>
<text x="332.6" y="926.2" text-anchor="middle" class="t">100</text>
<text x="-0.5" y="723.8" class="lt">d</text>
<text x="51" y="27.7" class="lg"><tspan class="bi">G</tspan><tspan class="bis" dy="3.6">STq</tspan><tspan dy="-3.6" dx="-0.4"> and </tspan><tspan class="bi" dx="1">Q</tspan><tspan class="bis" dy="3.6">ST</tspan></text>
<text x="192.5" y="943.5" text-anchor="middle" class="t">Generations</text>
</svg>
</body></html>
